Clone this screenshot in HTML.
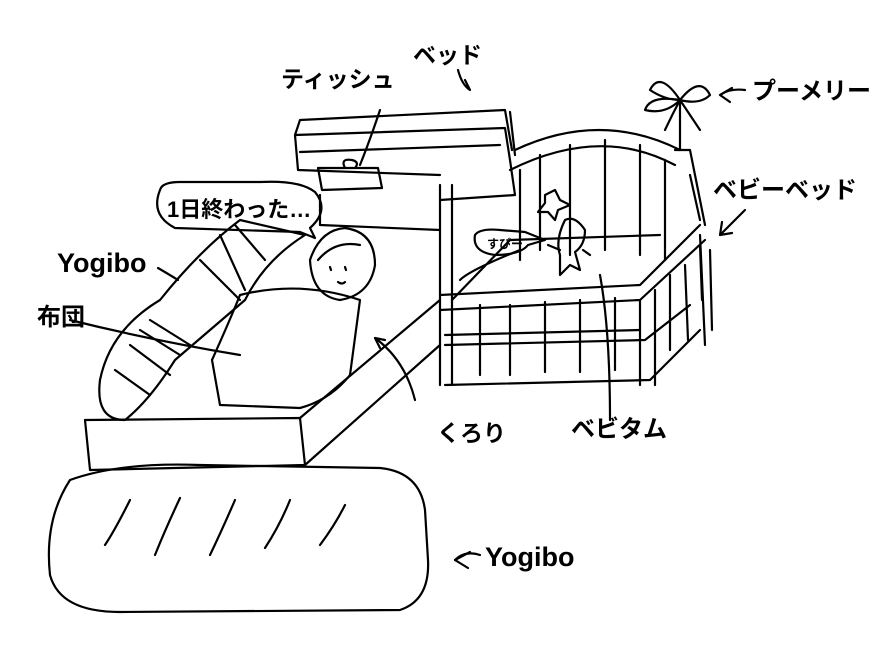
<!DOCTYPE html>
<html><head><meta charset="utf-8"><style>
html,body{margin:0;padding:0;background:#fff;}
svg{display:block}
text{font-family:"Liberation Sans","Noto Sans CJK JP",sans-serif;font-weight:bold;fill:#000}
</style></head><body>
<svg width="890" height="649" viewBox="0 0 890 649" xmlns="http://www.w3.org/2000/svg">
<g fill="none" stroke="#000" stroke-width="2.2" stroke-linecap="round" stroke-linejoin="round">
<path d="M70 480 Q120 462 200 465 L380 468 Q420 472 425 510 L428 560 Q430 600 400 610 L120 612 Q60 612 50 575 Q44 520 70 480 Z"/>
<path d="M130 500 Q115 530 105 545 M180 498 Q165 530 155 555 M235 500 Q222 530 210 555 M290 500 Q280 525 265 548 M345 505 Q335 525 320 545"/>
<path d="M455 560 Q465 550 480 555"/><path d="M455 560 L470 552 M455 560 L468 568"/>
<path d="M85 420 L300 418 L305 465 L90 470 Z"/>
<path d="M300 418 L440 300 M305 465 L440 345"/>
<path d="M295 135 L300 120 L505 110 L512 150 M295 135 L505 128 L510 160 M295 135 L298 170 L440 175 M300 152 L500 145 M510 160 L515 195 L440 200"/>
<path d="M320 195 L320 225 L440 230 M510 112 L515 155"/>
<path d="M318 168 L378 168 L382 188 L322 190 Z M345 168 Q340 158 352 160 Q360 162 355 168"/>
<path d="M360 165 Q370 140 380 110"/>
<path d="M100 380 Q110 330 160 300 Q200 250 240 220 L305 235 Q265 260 245 300 Q210 330 175 360 Q150 400 125 420 Q95 420 100 380 Z"/>
<path d="M220 235 L245 290 M235 225 L265 260 M200 260 L240 300 M130 345 L170 375 M140 330 L180 355 M115 370 L150 395 M150 320 L190 345"/>
<path d="M158 268 Q170 275 178 280"/>
<path d="M240 295 Q300 280 360 300 L350 375 Q330 400 300 408 L220 405 L212 360 Q230 320 240 295 Z"/>
<path d="M70 320 Q150 340 240 355"/>
<path d="M310 260 Q320 230 345 228 Q375 232 375 265 Q370 295 340 300 Q312 296 310 260 Z"/>
<path d="M318 260 Q335 240 360 245 M330 267 L331 270 M345 267 L346 270 M338 282 Q342 285 345 282"/>
<path d="M375 338 Q405 360 415 400 M375 338 L385 340 M375 338 L380 348"/>
<path d="M160 190 Q150 215 175 228 L300 232 L315 238 L310 228 Q330 210 315 192 Q300 180 260 182 L180 182 Q162 182 160 190 Z"/>
<path d="M440 185 L440 385 M452 185 L452 385 M440 295 L640 285 L700 225 M440 310 L640 300 L705 240"/>
<path d="M452 300 L510 240 L660 235 M460 280 Q470 270 520 250"/>
<path d="M515 150 Q600 110 680 150 M510 170 Q600 125 675 165 M520 170 L520 260 M540 155 L540 250 M570 145 L570 255 M605 140 L605 250 M640 145 L640 255 M665 160 L665 260"/>
<path d="M675 150 L690 150 L705 225 M690 175 L700 220 M710 250 L712 330 M700 235 L705 345"/>
<path d="M445 335 L640 330 M445 345 L645 340 L690 305 M445 385 L650 380 L700 330"/>
<path d="M480 305 L480 375 M510 305 L510 375 M545 302 L545 372 M580 300 L580 372 M615 298 L615 370 M640 300 L640 385 M655 290 L655 385 M670 275 L670 350 M685 265 L688 340"/>
<path d="M700 245 L702 300"/>
<path d="M545 195 L555 190 L560 200 L570 205 L558 210 L555 220 L548 212 L538 212 L545 203 Z"/>
<path d="M565 220 Q575 215 585 230 Q585 245 575 252 L580 270 L570 265 L560 275 L560 255 Q555 240 565 220 Z"/>
<path d="M560 250 L548 245 M583 250 L590 255"/>
<path d="M600 275 Q610 330 610 420"/>
<path d="M475 235 Q480 228 500 230 L525 232 L545 240 L528 245 Q520 255 495 255 Q472 252 475 235 Z"/>
<path d="M680 150 L680 100 M680 100 Q660 70 650 90 Q665 100 680 100 M680 100 Q700 75 710 95 Q700 105 680 100 M680 100 Q650 95 645 110 Q665 115 680 100 M680 100 Q690 115 700 130 M680 100 Q672 115 665 130"/>
<path d="M720 95 Q730 88 745 90 M720 95 L732 88 M720 95 L730 102"/>
<path d="M745 210 Q735 220 720 235 M720 235 L722 222 M720 235 L732 233"/>
<path d="M458 70 Q462 85 470 90 L465 80"/>
</g>
<text x="413" y="63" font-size="23">ベッド</text>
<text x="281" y="87" font-size="23">ティッシュ</text>
<text x="752" y="99" font-size="24">プーメリー</text>
<text x="713" y="198" font-size="24">ベビーベッド</text>
<text x="167" y="217" font-size="22">1日終わった…</text>
<text x="57" y="272" font-size="27">Yogibo</text>
<text x="37" y="325" font-size="24">布団</text>
<text x="437" y="441" font-size="23">くろり</text>
<text x="571" y="437" font-size="24">ベビタム</text>
<text x="485" y="566" font-size="27">Yogibo</text>
<text x="487" y="248" font-size="12">すぴー</text>
</svg>
</body></html>
